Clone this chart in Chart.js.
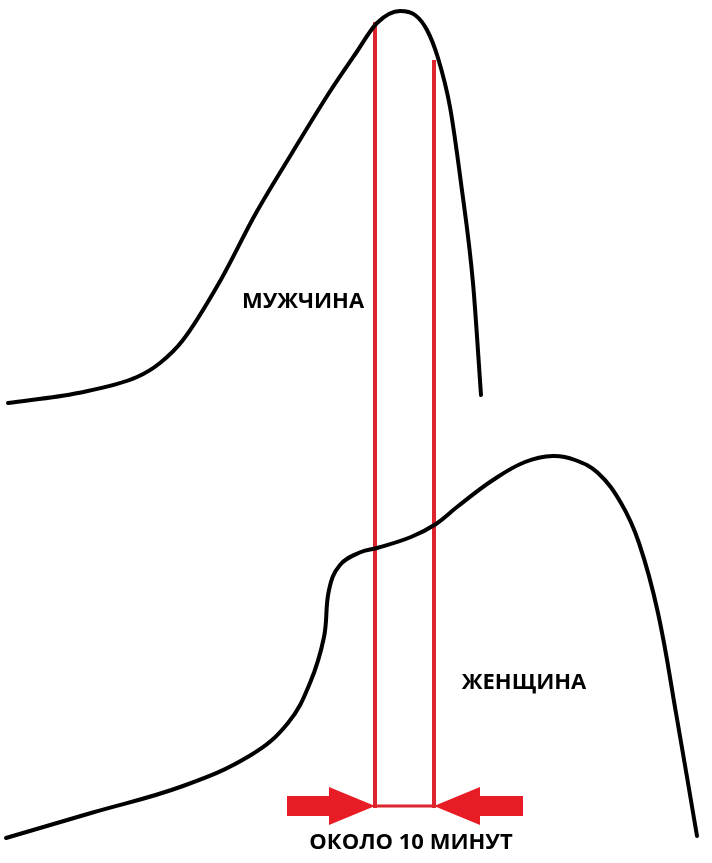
<!DOCTYPE html>
<html>
<head>
<meta charset="utf-8">
<script src="https://cdn.jsdelivr.net/npm/chart.js@4.4.0/dist/chart.umd.min.js"></script>
<style>
  html, body { margin: 0; padding: 0; background: #fff; }
  #wrap { width: 712px; height: 863px; }
</style>
</head>
<body>
<div id="wrap"><canvas id="myChart"></canvas></div>
<script>
// curves (x = time, y = level, top = high)
const manX = [8, 78, 137, 160, 183, 219, 256, 292, 329, 356, 377, 400, 415, 427, 438, 450, 461, 473, 481];
const manY = [403, 393, 377, 363, 340, 283, 213, 153, 93, 53, 23, 11, 15, 30, 58, 107, 183, 283, 395];

const womanX = [6, 91, 183, 251, 288, 310, 324, 329, 340, 361, 377, 411, 436, 457, 493, 525, 553, 575, 598, 621, 639, 658, 676, 697];
const womanY = [838, 813, 786, 755, 723, 683, 637, 590, 565, 552, 548, 537, 524, 507, 480, 462, 456, 460, 473, 503, 543, 613, 713, 836];

// the two red markers and how far down they go
const markX = [375, 434];
const markTop = [22, 60];
const markBottom = 808;
const gapY = 806;
const arrowTails = [287, 523];

const labels = [
    { text: 'МУЖЧИНА', x: 303, y: 302 },
    { text: 'ЖЕНЩИНА', x: 524, y: 683 },
    { text: 'ОКОЛО 10 МИНУТ', x: 411, y: 843 }
];

const red = 'rgb(222, 36, 44)';

const toPoints = (xs, ys) => xs.map((x, i) => ({ x: x, y: ys[i] }));

const arrowPlugin = {
    id: 'arrows_and_labels',
    afterDatasetsDraw: (chart) => {
        const ctx = chart.ctx;
        const sx = chart.scales.x, sy = chart.scales.y;
        const px = (v) => sx.getPixelForValue(v);
        const py = (v) => sy.getPixelForValue(v);

        // big arrows pointing at the markers
        const drawArrow = (tipX, tailX) => {
            const dir = tipX > tailX ? 1 : -1;
            const headLen = 46, shaft = 10, head = 19;
            const tip = px(tipX), tail = px(tailX), cy = py(gapY);
            const neck = tip - dir * headLen;
            ctx.beginPath();
            ctx.moveTo(tail, cy - shaft);
            ctx.lineTo(neck, cy - shaft);
            ctx.lineTo(neck, cy - head);
            ctx.lineTo(tip, cy);
            ctx.lineTo(neck, cy + head);
            ctx.lineTo(neck, cy + shaft);
            ctx.lineTo(tail, cy + shaft);
            ctx.closePath();
            ctx.fill();
        };
        ctx.save();
        ctx.fillStyle = 'rgb(232, 28, 36)';
        drawArrow(markX[0], arrowTails[0]);
        drawArrow(markX[1], arrowTails[1]);

        ctx.fillStyle = '#000';
        ctx.font = 'bold 22px "Open Sans"';
        ctx.textAlign = 'center';
        ctx.textBaseline = 'middle';
        labels.forEach(l => ctx.fillText(l.text, px(l.x), py(l.y)));
        ctx.restore();
    }
};

const ctx = document.getElementById('myChart').getContext('2d');

const myChart = new Chart(ctx, {
    type: 'scatter',
    plugins: [arrowPlugin],
    data: {
        datasets: [{
            label: 'Мужчина',
            data: toPoints(manX, manY),
            showLine: true,
            borderColor: '#000',
            borderWidth: 4,
            pointRadius: 0,
            cubicInterpolationMode: 'monotone',
            borderCapStyle: 'round'
        }, {
            label: 'Женщина',
            data: toPoints(womanX, womanY),
            showLine: true,
            borderColor: '#000',
            borderWidth: 4,
            pointRadius: 0,
            tension: 0.4,
            borderCapStyle: 'round'
        }, {
            label: 'start',
            data: [{ x: markX[0], y: markTop[0] }, { x: markX[0], y: markBottom }],
            showLine: true,
            borderColor: red,
            borderWidth: 4,
            pointRadius: 0
        }, {
            label: 'end',
            data: [{ x: markX[1], y: markTop[1] }, { x: markX[1], y: markBottom }],
            showLine: true,
            borderColor: red,
            borderWidth: 4,
            pointRadius: 0
        }, {
            label: 'gap',
            data: [{ x: markX[0], y: gapY }, { x: markX[1], y: gapY }],
            showLine: true,
            borderColor: red,
            borderWidth: 3,
            pointRadius: 0
        }]
    },
    options: {
        responsive: true,
        maintainAspectRatio: false,
        animation: false,
        layout: { padding: 0 },
        plugins: {
            legend: { display: false },
            tooltip: { enabled: false }
        },
        scales: {
            x: { type: 'linear', min: 0, max: 712, display: false },
            y: { type: 'linear', min: 0, max: 863, reverse: true, display: false }
        }
    }
});
</script>
</body>
</html>
